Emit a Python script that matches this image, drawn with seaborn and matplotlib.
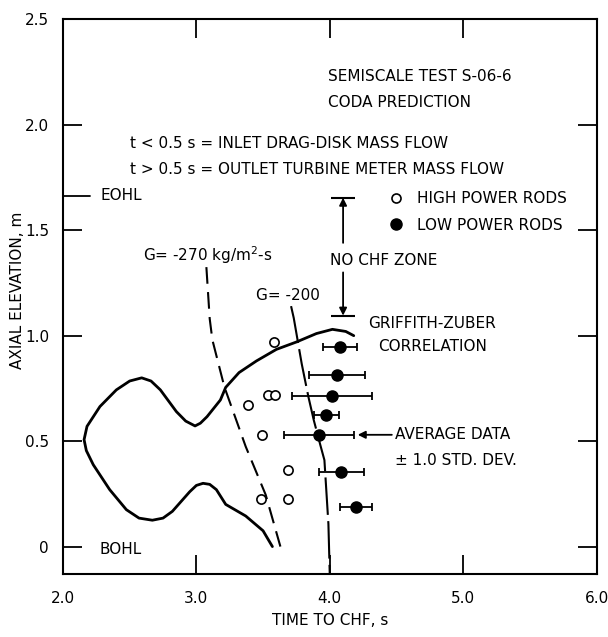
import matplotlib
matplotlib.use("Agg")
import matplotlib.pyplot as plt
from matplotlib.lines import Line2D
import seaborn as sns

# Griffith-Zuber correlation (starts at the bottom of the heated length)
gz_time = [3.57, 3.50, 3.37, 3.22, 3.15, 3.10, 3.05, 3.00, 2.95, 2.82, 2.75, 2.67,
           2.57, 2.475, 2.35, 2.227, 2.175, 2.158, 2.18, 2.277, 2.40, 2.50, 2.59,
           2.66, 2.73, 2.85, 2.92, 2.99, 3.03, 3.08, 3.18, 3.22, 3.32, 3.45, 3.60,
           3.75, 3.90, 4.02, 4.12, 4.18]
gz_elev = [0.00, 0.075, 0.145, 0.20, 0.27, 0.295, 0.30, 0.29, 0.26, 0.167, 0.135,
           0.125, 0.135, 0.175, 0.27, 0.388, 0.455, 0.507, 0.57, 0.664, 0.743,
           0.785, 0.80, 0.785, 0.743, 0.64, 0.595, 0.572, 0.585, 0.616, 0.695,
           0.755, 0.825, 0.88, 0.935, 0.97, 1.01, 1.03, 1.02, 1.00]

# CODA predictions for two mass fluxes
g270_time = [3.075, 3.10, 3.12, 3.21, 3.37, 3.52, 3.63]
g270_elev = [1.325, 1.08, 0.98, 0.757, 0.474, 0.245, 0.0]
g200_time = [3.71, 3.73, 3.79, 3.84, 3.88, 3.93, 3.96, 3.99, 4.0]
g200_elev = [1.14, 1.084, 0.866, 0.71, 0.60, 0.48, 0.41, 0.107, -0.13]

# Measured times to CHF
high_time = [3.585, 3.54, 3.59, 3.39, 3.49, 3.69, 3.486, 3.685]
high_elev = [0.970, 0.72, 0.72, 0.67, 0.527, 0.363, 0.226, 0.224]
low_time = [4.075, 4.055, 4.02, 3.975, 3.92, 4.088, 4.198]
low_elev = [0.948, 0.813, 0.712, 0.625, 0.528, 0.352, 0.187]
low_sd = [0.127, 0.21, 0.30, 0.096, 0.262, 0.168, 0.121]

# Heated length limits and the no-CHF zone
eohl = 1.663
bohl = 0.0
no_chf_time = 4.10
no_chf_top = 1.654
no_chf_bottom = 1.095

x_ticks = [2.0, 3.0, 4.0, 5.0, 6.0]
x_tick_labels = ["2.0", "3.0", "4.0", "5.0", "6.0"]
y_ticks = [0.0, 0.5, 1.0, 1.5, 2.0, 2.5]
y_tick_labels = ["0", "0.5", "1.0", "1.5", "2.0", "2.5"]

sns.set_theme(style="white")
plt.rcParams["font.family"] = ["DejaVu Sans"]
plt.rcParams["mathtext.fontset"] = "dejavusans"
plt.rcParams["text.color"] = "black"
plt.rcParams["axes.labelcolor"] = "black"
plt.rcParams["xtick.color"] = "black"
plt.rcParams["ytick.color"] = "black"

FS = 11
fig = plt.figure(figsize=(6.08, 6.37), dpi=100)
ax = fig.add_axes([63 / 608, 1 - 574 / 637, 533.5 / 608, (574 - 19.3) / 637])

sns.lineplot(x=gz_time, y=gz_elev, sort=False, estimator=None, color="black",
             linewidth=2.0, ax=ax)
sns.lineplot(x=g270_time, y=g270_elev, sort=False, estimator=None, color="black",
             linewidth=1.5, linestyle=(0, (8, 4)), ax=ax)
sns.lineplot(x=g200_time, y=g200_elev, sort=False, estimator=None, color="black",
             linewidth=1.5, linestyle=(0, (18, 3)), ax=ax)
for ln in ax.get_lines():
    ln.set_solid_joinstyle("round")

ax.errorbar(low_time, low_elev, xerr=low_sd, fmt="none", ecolor="black",
            elinewidth=1.3, capsize=3, capthick=1.3, zorder=3)
sns.scatterplot(x=high_time, y=high_elev, marker="o", color="white",
                edgecolor="black", linewidth=1.2, s=44, ax=ax, zorder=4)
sns.scatterplot(x=low_time, y=low_elev, marker="o", color="black",
                edgecolor="black", linewidth=1.0, s=64, ax=ax, zorder=4)

ax.set_xlim(2.0, 6.0)
ax.set_ylim(-0.13, 2.5)
ax.set_xticks(x_ticks)
ax.set_xticklabels(x_tick_labels)
ax.set_yticks(y_ticks)
ax.set_yticklabels(y_tick_labels)
ax.tick_params(axis="both", direction="in", length=14, width=1.3, color="black",
               labelsize=FS, top=True, right=True, bottom=True, left=True,
               labelcolor="black")
ax.tick_params(axis="x", pad=12.5)
ax.tick_params(axis="y", pad=10)
for sp in ax.spines.values():
    sp.set_visible(True)
    sp.set_color("black")
    sp.set_linewidth(1.5)

ax.set_xlabel("TIME TO CHF, s", fontsize=FS)
ax.xaxis.set_label_coords(0.5, -0.071)
ax.set_ylabel("AXIAL ELEVATION, m", fontsize=FS)
ax.yaxis.set_label_coords(-0.0854, 0.512)
ax.yaxis.label.set_va("center")

# heated length markers on the left axis
ytr = ax.get_yaxis_transform()
ax.plot([0, 0.05], [eohl, eohl], transform=ytr, color="black", lw=1.3)
ax.text(0.071, eohl, "EOHL", transform=ytr, fontsize=FS, va="center", ha="left")
ax.text(0.068, bohl - 0.015, "BOHL", transform=ytr, fontsize=FS, va="center", ha="left")

# header text
ax.text(3.99, 2.23, "SEMISCALE TEST S-06-6", fontsize=FS, va="center", ha="left")
ax.text(3.99, 2.104, "CODA PREDICTION", fontsize=FS, va="center", ha="left")
ax.text(2.50, 1.91, "t < 0.5 s = INLET DRAG-DISK MASS FLOW", fontsize=FS,
        va="center", ha="left")
ax.text(2.50, 1.79, "t > 0.5 s = OUTLET TURBINE METER MASS FLOW", fontsize=FS,
        va="center", ha="left")

# curve labels
ax.text(2.60, 1.38, "G= -270 kg/m$^2$-s", fontsize=FS, va="center", ha="left")
ax.text(3.45, 1.19, "G= -200", fontsize=FS, va="center", ha="left")
ax.text(4.77, 1.056, "GRIFFITH-ZUBER", fontsize=FS, va="center", ha="center")
ax.text(4.77, 0.95, "CORRELATION", fontsize=FS, va="center", ha="center")

# no-CHF zone bracket
arrow_kw = dict(arrowstyle="-|>", color="black", lw=1.3, mutation_scale=11,
                shrinkA=0, shrinkB=0)
ax.annotate("", xy=(no_chf_time, no_chf_top), xytext=(no_chf_time, 1.44),
            arrowprops=arrow_kw)
ax.annotate("", xy=(no_chf_time, no_chf_bottom), xytext=(no_chf_time, 1.30),
            arrowprops=arrow_kw)
ax.plot([no_chf_time, no_chf_time], [no_chf_top, no_chf_bottom], ls="none",
        marker="_", ms=17, mew=1.5, color="black")
ax.text(4.0, 1.355, "NO CHF ZONE", fontsize=FS, va="center", ha="left")

# average data note
ax.annotate("AVERAGE DATA", xy=(4.21, 0.53), xytext=(4.49, 0.53), fontsize=FS,
            va="center", ha="left", arrowprops=arrow_kw)
ax.text(4.49, 0.41, "\u00b1 1.0 STD. DEV.", fontsize=FS, va="center", ha="left")

handles = [
    Line2D([], [], ls="none", marker="o", mfc="white", mec="black", ms=6.5, mew=1.2),
    Line2D([], [], ls="none", marker="o", mfc="black", mec="black", ms=8),
]
ax.legend(handles, ["HIGH POWER RODS", "LOW POWER RODS"], loc="upper left",
          bbox_to_anchor=(0.610, 0.690), bbox_transform=ax.transAxes, frameon=False,
          fontsize=FS, borderpad=0, borderaxespad=0, handlelength=1.0,
          handletextpad=0.87, labelspacing=0.75)

fig.savefig("out.png", dpi=100, facecolor="white")
